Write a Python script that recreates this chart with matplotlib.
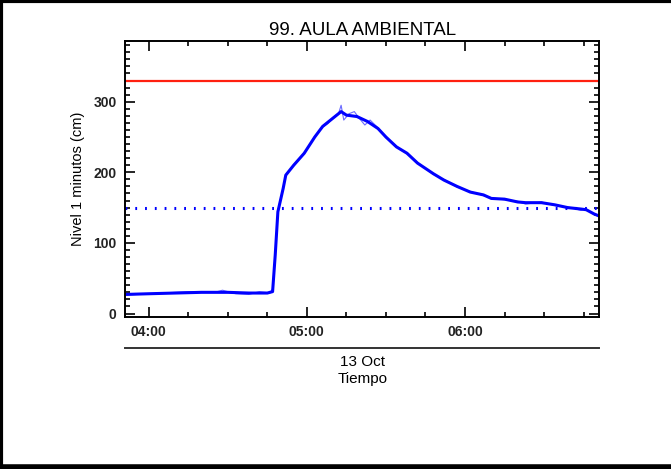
import matplotlib
matplotlib.use("Agg")
import matplotlib.pyplot as plt
import matplotlib.dates as mdates
from matplotlib.lines import Line2D
import pandas as pd

# datos (nivel en cm)
day = "2023-10-13 "
smooth_times = ["03:51", "04:00", "04:10", "04:20", "04:30", "04:38", "04:45", "04:47",
                "04:48", "04:49", "04:51", "04:52", "04:55", "04:59", "05:03", "05:06",
                "05:09", "05:13", "05:15", "05:19", "05:23", "05:27", "05:30", "05:34",
                "05:38", "05:42", "05:48", "05:52", "05:57", "06:02", "06:07", "06:10",
                "06:15", "06:20", "06:23", "06:29", "06:34", "06:39", "06:44", "06:46",
                "06:49", "06:51"]
smooth_levels = [27, 28, 29, 30, 30, 29, 29, 31,
                 83, 144, 177, 196, 210, 227, 250, 265,
                 274, 286, 281, 279, 272, 262, 250, 236,
                 227, 213, 198, 189, 180, 172, 168, 163,
                 162, 158, 157, 157, 154, 150, 148, 147,
                 141, 138]

raw_times = ["03:51", "04:05", "04:15", "04:25", "04:28", "04:33", "04:38", "04:42",
             "04:46", "04:47", "04:48", "04:49", "04:51", "04:52", "04:55", "04:59",
             "05:03", "05:06", "05:08", "05:10", "05:12", "05:13", "05:14", "05:16",
             "05:18", "05:20", "05:22", "05:24", "05:27", "05:30", "05:34", "05:38",
             "05:42", "05:48", "05:52", "05:57", "06:02", "06:07", "06:10", "06:15",
             "06:20", "06:23", "06:29", "06:34", "06:39", "06:44", "06:46", "06:49",
             "06:51"]
raw_levels = [26, 29, 31, 30, 33, 28, 27, 31,
              29, 35, 85, 146, 178, 195, 211, 226,
              251, 264, 269, 278, 283, 295, 274, 283,
              286, 276, 267, 274, 263, 249, 237, 226,
              214, 197, 190, 179, 173, 167, 164, 161,
              159, 155, 158, 153, 151, 146, 148, 140,
              137]

alarm_level = 330
warning_level = 150

t_smooth = pd.to_datetime([day + t for t in smooth_times])
t_raw = pd.to_datetime([day + t for t in raw_times])

plt.rcParams['font.family'] = ['Liberation Sans', 'DejaVu Sans']

fig = plt.figure(figsize=(6.71, 4.69), dpi=100)
ax = fig.add_axes([0.1863, 0.324, 0.707, 0.5886])

ax.plot(t_raw, raw_levels, color="#6a6aff", lw=0.8)
ax.plot(t_smooth, smooth_levels, color="#0000ff", lw=2.2)
ax.axhline(alarm_level, color="#ff2010", lw=1.6)
ax.axhline(warning_level, color="#0000ff", lw=2.2, linestyle=(0, (0.6, 2.6)))

ax.set_xlim(pd.Timestamp(day + "03:51"), pd.Timestamp(day + "06:51"))
ax.set_ylim(-5, 386)

ax.xaxis.set_major_locator(mdates.HourLocator())
ax.xaxis.set_minor_locator(mdates.MinuteLocator(byminute=[15, 30, 45]))
ax.xaxis.set_major_formatter(mdates.DateFormatter("%H:%M"))
ax.set_yticks([0, 100, 200, 300])
ax.set_yticks(range(0, 390, 10), minor=True)

ax.tick_params(which="both", direction="in", top=True, right=True, width=1.2, labelsize=10)
ax.tick_params(which="major", length=7, pad=6)
ax.tick_params(which="minor", length=3.5)
for s in ax.spines.values():
    s.set_linewidth(1.4)
for lbl in ax.get_xticklabels() + ax.get_yticklabels():
    lbl.set_fontweight("bold")
    lbl.set_color("#222222")

ax.set_title("99. AULA AMBIENTAL", fontsize=13.5, pad=4)
ax.set_ylabel("Nivel 1 minutos (cm)", fontsize=10.5, labelpad=6)

# linea de fecha y etiqueta del eje x
fig.add_artist(Line2D([0.1863, 0.8934], [1 - 348 / 469, 1 - 348 / 469], color="#333333", lw=1.4))
fig.text(0.54, 1 - 362 / 469, "13 Oct", ha="center", va="center", fontsize=11)
fig.text(0.54, 1 - 379 / 469, "Tiempo", ha="center", va="center", fontsize=11)

# marco negro de la imagen
fig.add_artist(Line2D([0.002, 0.002], [0, 1], color="black", lw=3))
fig.add_artist(Line2D([0, 1], [0.997, 0.997], color="black", lw=3))
fig.add_artist(Line2D([0, 1], [0.004, 0.004], color="black", lw=4))

fig.savefig("out.png", dpi=100)
